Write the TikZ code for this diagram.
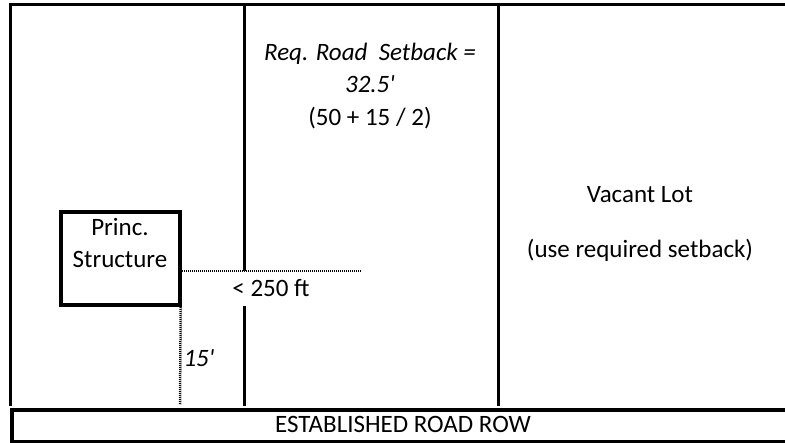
\documentclass[tikz,border=0pt]{standalone}
\usepackage{fontspec}
\newfontfamily\lotfont{Carlito}
\begin{document}
\begin{tikzpicture}[x=1pt,y=-1pt,
    lotline/.style={line width=3pt},
    measure/.style={line width=2.5pt,dash pattern=on 1pt off 1pt},
    txt/.style={font=\lotfont\fontsize{25}{32.5}\selectfont,inner sep=0pt,align=center}]
    \useasboundingbox (0,0) rectangle (785,443);
    \clip (0,0) rectangle (785,443);

    % lot lines
    \draw[lotline] (10,406) -- (10,5) -- (800,5);
    \draw[lotline] (244,5) -- (244,271);
    \draw[lotline] (244,306) -- (244,406);
    \draw[lotline] (498,5) -- (498,406);

    % road
    \node[draw,line width=4pt,minimum width=800pt,minimum height=32pt,anchor=north west,txt] (road) at (10,408) {};
    \node[txt] (roadname) at (403,424) {ESTABLISHED ROAD ROW};

    % structure
    \node[draw,line width=4.5pt,minimum width=119pt,minimum height=93pt,inner sep=0pt] (struct) at (120.5,258.5) {};
    \node[txt] (structname) at (120,243) {Princ.\\Structure};

    % setback texts
    \node[txt] (req) at (370,86) {\itshape Req. Road\ \ Setback =\\\itshape 32.5'\\(50 + 15 / 2)};
    \node[txt] (vacant) at (640,195) {Vacant Lot};
    \node[txt] (vacantnote) at (640,250) {(use required setback)};
    \node[txt] (dist) at (271,288) {< 250 ft};
    \node[txt] (side) at (199,358) {\itshape 15'};

    % measures
    \coordinate (hend) at (361,271);
    \coordinate (vend) at (180,405);
    \draw[measure] (struct.east |- hend) -- (hend);
    \draw[measure] ([xshift=-1.5pt]struct.south east) -- (vend);
\end{tikzpicture}
\end{document}
